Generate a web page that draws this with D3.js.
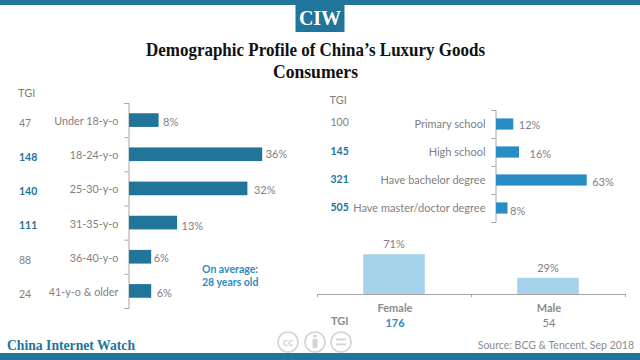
<!DOCTYPE html>
<html>
<head>
<meta charset="utf-8">
<script src="https://cdn.jsdelivr.net/npm/d3@7/dist/d3.min.js"></script>
<style>
  html, body { margin: 0; padding: 0; background: #fff; }
  text { font-family: Lato, sans-serif; }
  .serif { font-family: "Liberation Serif", serif; font-weight: bold; }
</style>
</head>
<body>
<div id="chart-area"></div>
<script>
const ageGroups = ["Under 18-y-o", "18-24-y-o", "25-30-y-o", "31-35-y-o", "36-40-y-o", "41-y-o & older"]
const ageShare = [8, 36, 32, 13, 6, 6]
const ageTgi = [47, 148, 140, 111, 88, 24]

const eduGroups = ["Primary school", "High school", "Have bachelor degree", "Have master/doctor degree"]
const eduShare = [12, 16, 63, 8]
const eduTgi = [100, 145, 321, 505]

const genders = ["Female", "Male"]
const genderShare = [71, 29]
const genderTgi = [176, 54]

// TGI above this is picked out in blue
const tgiHighlight = 100

const grey = "#7f7f7f"
const navy = "#21759b"
const blue = "#2a8cc4"
const pale = "#a6d3ec"

const svg = d3.select("#chart-area").append("svg")
    .attr("width", 640)
    .attr("height", 360)
    .style("display", "block")

// header + footer bars
svg.append("rect").attr("width", 640).attr("height", 5).attr("fill", navy)
svg.append("rect").attr("y", 353).attr("width", 640).attr("height", 7).attr("fill", navy)
svg.append("rect").attr("x", 295.5).attr("width", 49).attr("height", 32).attr("fill", navy)
svg.append("text").attr("class", "serif")
    .attr("x", 320).attr("y", 25).attr("text-anchor", "middle")
    .attr("font-size", 20).attr("fill", "#fff")
    .text("CIW")

svg.append("text").attr("class", "serif")
    .attr("x", 315.5).attr("y", 55.5).attr("text-anchor", "middle")
    .attr("font-size", 19).attr("fill", "#111")
    .attr("textLength", 339).attr("lengthAdjust", "spacingAndGlyphs")
    .text("Demographic Profile of China’s Luxury Goods")
svg.append("text").attr("class", "serif")
    .attr("x", 315.5).attr("y", 77.5).attr("text-anchor", "middle")
    .attr("font-size", 19).attr("fill", "#111")
    .attr("textLength", 85).attr("lengthAdjust", "spacingAndGlyphs")
    .text("Consumers")

function hBars(opts) {
    const n = opts.groups.length
    const yBand = d3.scaleBand().domain(opts.groups)
        .range([opts.top, opts.bottom]).paddingInner(opts.padding).paddingOuter(opts.padding / 2)
    const yEdge = d3.scaleLinear().domain([0, n]).range([opts.top, opts.bottom])
    const x = d3.scaleLinear().domain([0, 100]).range([opts.left, opts.left + opts.perPct * 100])

    const axis = svg.append("g")
        .attr("transform", `translate(${opts.left},0)`)
        .call(d3.axisLeft(yEdge).tickValues(d3.range(n + 1)).tickSize(4).tickSizeOuter(4).tickFormat(""))
    axis.selectAll(".domain, line").attr("stroke", "#a6a6a6")

    svg.append("g").selectAll("text")
        .data(opts.groups)
        .enter().append("text")
        .attr("x", opts.left - 10)
        .attr("y", d => yBand(d) + yBand.bandwidth() / 2 + 4 + opts.catShift)
        .attr("text-anchor", "end")
        .attr("font-size", opts.catSize)
        .attr("fill", grey)
        .text(d => d)

    svg.append("g").selectAll("rect")
        .data(opts.groups)
        .enter().append("rect")
        .attr("x", x(0) + 0.5)
        .attr("y", d => yBand(d))
        .attr("width", (d, i) => x(opts.values[i]) - x(0))
        .attr("height", yBand.bandwidth())
        .attr("fill", opts.color)

    svg.append("g").selectAll("text")
        .data(opts.groups)
        .enter().append("text")
        .attr("x", (d, i) => x(opts.values[i]) + opts.nudgeX[i])
        .attr("y", (d, i) => yBand(d) + yBand.bandwidth() / 2 + 4 + opts.nudgeY[i])
        .attr("font-size", 11)
        .attr("fill", grey)
        .text((d, i) => opts.values[i] + "%")

    svg.append("text")
        .attr("x", opts.tgiX).attr("y", opts.top - 6)
        .attr("font-size", 11).attr("fill", grey)
        .text("TGI")

    svg.append("g").selectAll("text")
        .data(opts.groups)
        .enter().append("text")
        .attr("x", opts.tgiX + 1)
        .attr("y", (d, i) => yBand(d) + yBand.bandwidth() / 2 + 4 + opts.tgiShift[i])
        .attr("font-size", 10.5)
        .attr("font-weight", (d, i) => opts.tgi[i] > tgiHighlight ? "bold" : "normal")
        .attr("fill", (d, i) => opts.tgi[i] > tgiHighlight ? navy : grey)
        .text((d, i) => opts.tgi[i])
}

hBars({
    groups: ageGroups, values: ageShare, tgi: ageTgi,
    top: 103, bottom: 308, left: 128.5, perPct: 3.7, padding: 0.6,
    color: navy, tgiX: 18, catSize: 10.8,
    catShift: 1,
    nudgeX: [5, 4, 7, 5, 3, 6], nudgeY: [2, 0, 2, 3, 1, 2],
    tgiShift: [3, 3, 3, 2, 3, 3]
})

hBars({
    groups: eduGroups, values: eduShare, tgi: eduTgi,
    top: 110, bottom: 222, left: 495.5, perPct: 1.44, padding: 0.6,
    color: blue, tgiX: 329.5, catSize: 11,
    catShift: 0,
    nudgeX: [6, 11, 6, 3], nudgeY: [1, 2, 2, 3],
    tgiShift: [-2, -1, -1, -1]
})

// Average note
svg.append("text").attr("x", 202).attr("y", 273)
    .attr("font-size", 10.5).attr("font-weight", "bold").attr("fill", blue)
    .text("On average:")
svg.append("text").attr("x", 202).attr("y", 286)
    .attr("font-size", 10.5).attr("font-weight", "bold").attr("fill", blue)
    .text("28 years old")

// gender columns
const xGender = d3.scaleBand().domain(genders).range([317, 625])
const yGender = d3.scaleLinear().domain([0, 100]).range([294, 238])

svg.append("g").selectAll("rect")
    .data(genders)
    .enter().append("rect")
    .attr("x", d => xGender(d) + xGender.bandwidth() * 0.3)
    .attr("y", (d, i) => yGender(genderShare[i]))
    .attr("width", xGender.bandwidth() * 0.4)
    .attr("height", (d, i) => yGender(0) - yGender(genderShare[i]))
    .attr("fill", pale)

const xEdge = d3.scaleLinear().domain([0, genders.length]).range([317, 625])
const genderAxis = svg.append("g")
    .attr("transform", "translate(0,294)")
    .call(d3.axisBottom(xEdge).tickValues(d3.range(genders.length + 1)).tickSize(3).tickSizeOuter(3).tickFormat(""))
genderAxis.selectAll(".domain, line").attr("stroke", "#a6a6a6")

svg.append("g").selectAll("text")
    .data(genders)
    .enter().append("text")
    .attr("x", d => xGender(d) + xGender.bandwidth() / 2)
    .attr("y", (d, i) => yGender(genderShare[i]) - 6)
    .attr("text-anchor", "middle")
    .attr("font-size", 11)
    .attr("fill", grey)
    .text((d, i) => genderShare[i] + "%")

svg.append("g").selectAll("text")
    .data(genders)
    .enter().append("text")
    .attr("x", d => xGender(d) + xGender.bandwidth() / 2 + 1)
    .attr("y", 312)
    .attr("text-anchor", "middle")
    .attr("font-size", 11)
    .attr("font-weight", "bold")
    .attr("fill", "#8c8c8c")
    .text(d => d)

svg.append("text").attr("x", 331).attr("y", 325)
    .attr("font-size", 11).attr("font-weight", "bold").attr("fill", "#8c8c8c")
    .text("TGI")

svg.append("g").selectAll("text")
    .data(genders)
    .enter().append("text")
    .attr("x", d => xGender(d) + xGender.bandwidth() / 2 + 1)
    .attr("y", 327)
    .attr("text-anchor", "middle")
    .attr("font-size", 11)
    .attr("font-weight", (d, i) => genderTgi[i] > tgiHighlight ? "bold" : "normal")
    .attr("fill", (d, i) => genderTgi[i] > tgiHighlight ? blue : grey)
    .text((d, i) => genderTgi[i])

// Footer
svg.append("text").attr("class", "serif")
    .attr("x", 7).attr("y", 350)
    .attr("font-size", 15).attr("fill", navy)
    .attr("textLength", 128).attr("lengthAdjust", "spacingAndGlyphs")
    .text("China Internet Watch")

svg.append("text")
    .attr("x", 634).attr("y", 349).attr("text-anchor", "end")
    .attr("font-size", 10.5).attr("fill", "#8c8c8c")
    .text("Source: BCG & Tencent, Sep 2018")

// cc badges
const ccGrey = "#d4d4d4"
const badges = svg.append("g").attr("fill", "none").attr("stroke", ccGrey).attr("stroke-width", 1.6)
badges.selectAll("circle").data([288, 315, 341]).enter().append("circle")
    .attr("cx", d => d).attr("cy", 342).attr("r", 10)
svg.append("text").attr("x", 288).attr("y", 346).attr("text-anchor", "middle")
    .attr("font-size", 11).attr("font-weight", "bold").attr("fill", ccGrey).text("cc")
svg.append("circle").attr("cx", 315).attr("cy", 336).attr("r", 1.8).attr("fill", ccGrey)
svg.append("rect").attr("x", 312.5).attr("y", 339).attr("width", 5).attr("height", 9).attr("fill", ccGrey)
svg.append("rect").attr("x", 336).attr("y", 338.5).attr("width", 10).attr("height", 1.8).attr("fill", ccGrey)
svg.append("rect").attr("x", 336).attr("y", 343.5).attr("width", 10).attr("height", 1.8).attr("fill", ccGrey)
</script>
</body>
</html>
